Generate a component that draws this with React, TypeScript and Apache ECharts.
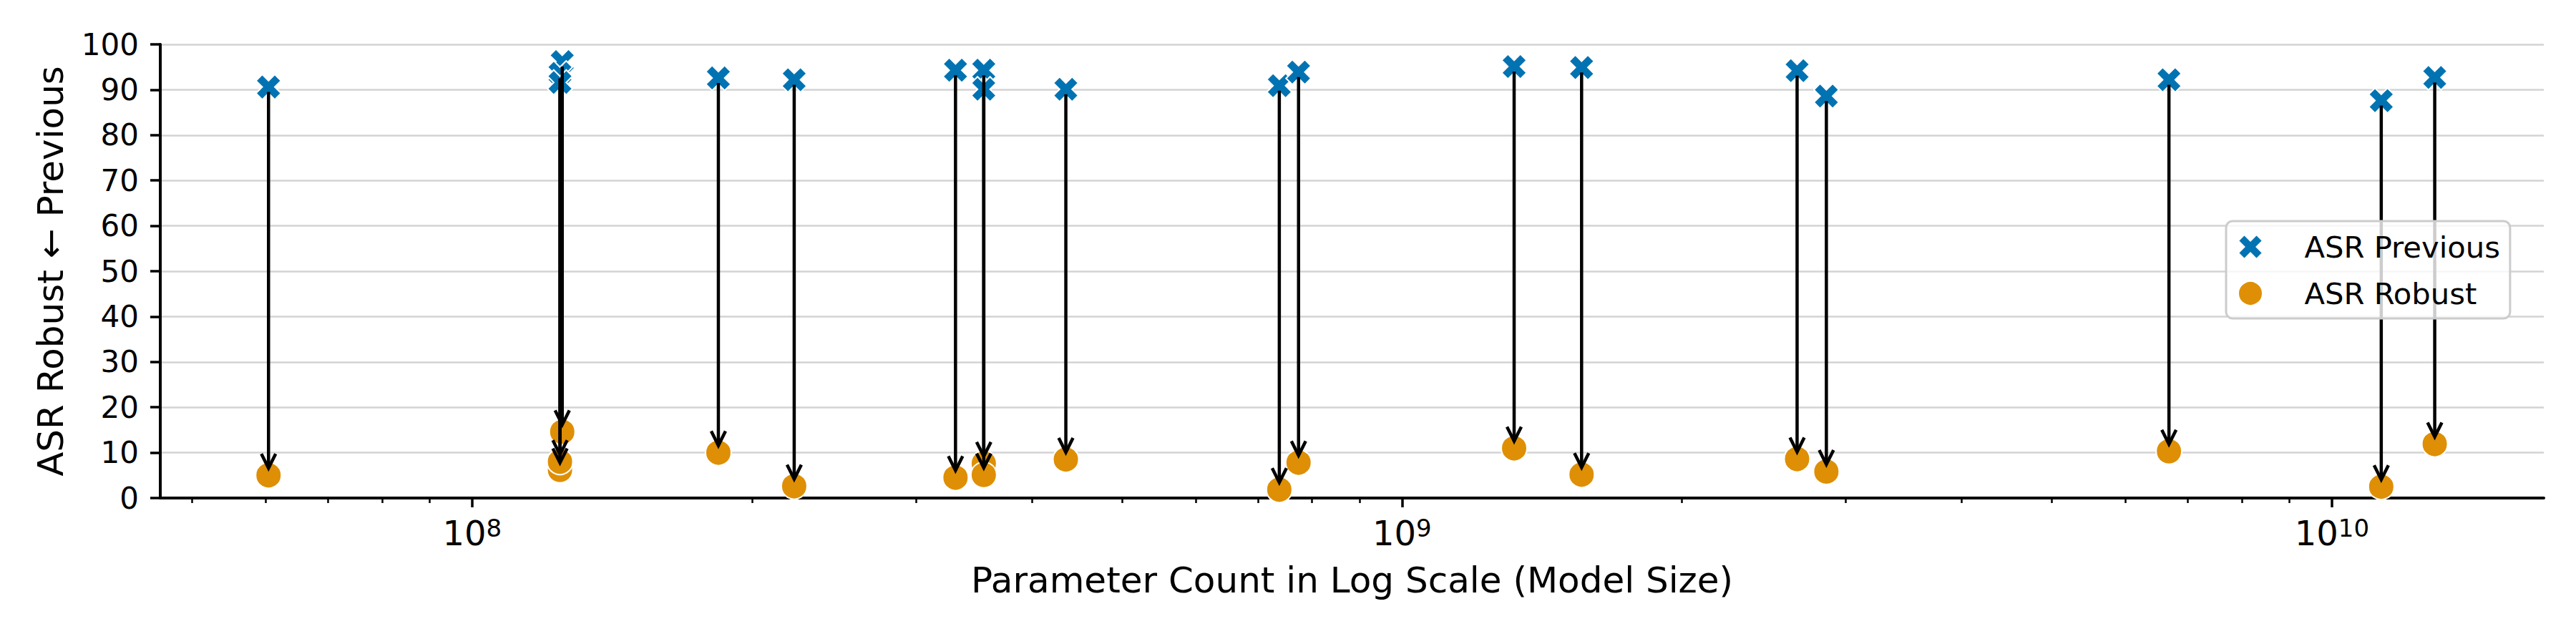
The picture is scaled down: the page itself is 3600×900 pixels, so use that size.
import React, { useEffect, useRef } from "react";
import * as echarts from "echarts";

// ---- data ----
const paramCounts = [
  6.04e7, 1.25e8, 1.243e8, 1.243e8, 1.84e8, 2.22e8, 3.31e8, 3.55e8, 3.55e8,
  4.35e8, 7.38e8, 7.74e8, 1.32e9, 1.56e9, 2.66e9, 2.86e9, 6.68e9, 1.13e10, 1.29e10,
];
const asrPrevious = [
  90.6, 96.2, 93.6, 91.6, 92.6, 92.2, 94.3, 94.3, 90.1,
  90.1, 90.9, 93.9, 95.1, 94.9, 94.2, 88.6, 92.2, 87.6, 92.7,
];
const asrRobust = [
  5.0, 14.6, 6.2, 8.0, 10.0, 2.6, 4.5, 7.6, 5.1,
  8.5, 1.85, 7.8, 10.95, 5.16, 8.6, 5.85, 10.3, 2.5, 11.9,
];
const majorTicks = [1e8, 1e9, 1e10];
const minorTicks = [
  5e7, 6e7, 7e7, 8e7, 9e7,
  2e8, 3e8, 4e8, 5e8, 6e8, 7e8, 8e8, 9e8,
  2e9, 3e9, 4e9, 5e9, 6e9, 7e9, 8e9, 9e9,
];
const X_MIN = 4.62e7;
const X_MAX = 1.69e10;
const seriesNames = ["ASR Previous", "ASR Robust"];

const FONT = "'DejaVu Sans', sans-serif";
const BLUE = "#0173b2";
const ORANGE = "#de8f05";
const X_PATH = "path://M6 0L4 2L2 0L0 2L2 4L0 6L2 8L4 6L6 8L8 6L6 4L8 2Z";

export default function App() {
  const ref = useRef<HTMLDivElement>(null);
  useEffect(() => {
    document.body.style.margin = "0";
    if (!ref.current) return;
    const chart = echarts.init(ref.current, undefined, { renderer: "svg" });

    const prevData = paramCounts.map((x, i) => [x, asrPrevious[i]]);
    const robData = paramCounts.map((x, i) => [x, asrRobust[i]]);
    const arrowData = paramCounts.map((x, i) => [x, asrPrevious[i], asrRobust[i]]);

    const option: any = {
      animation: false,
      textStyle: { fontFamily: FONT, color: "#000" },
      grid: { left: 224, right: 45, top: 62, bottom: 204 },
      legend: {
        data: seriesNames,
        orient: "vertical",
        left: 3111,
        top: 309,
        itemWidth: 83,
        itemHeight: 34,
        itemGap: 23,
        padding: [15, 14, 14, 16],
        selectedMode: false,
        backgroundColor: "rgba(255,255,255,0.8)",
        borderColor: "#cccccc",
        borderWidth: 3,
        borderRadius: 9,
        z: 10,
        textStyle: {
          fontFamily: FONT,
          fontSize: 41.7,
          color: "#000",
          lineHeight: 42,
          padding: [0, 0, 0, 29],
        },
      },
      xAxis: [
        {
          type: "log",
          logBase: 10,
          min: X_MIN,
          max: X_MAX,
          name: "Parameter Count in Log Scale (Model Size)",
          nameLocation: "middle",
          nameGap: 90,
          nameTextStyle: { fontSize: 50, color: "#000", fontFamily: FONT },
          axisLine: { show: true, onZero: false, lineStyle: { color: "#000", width: 4 } },
          axisTick: {
            show: true,
            customValues: majorTicks,
            length: 13,
            lineStyle: { color: "#000", width: 3.5 },
          },
          axisLabel: {
            show: true,
            customValues: majorTicks,
            margin: 25,
            color: "#000",
            formatter: (v: number) => `{b|10}{e|${Math.round(Math.log10(v))}}`,
            rich: {
              b: { fontSize: 48, lineHeight: 48, fontFamily: FONT, color: "#000" },
              e: { fontSize: 34, lineHeight: 24, verticalAlign: "top", fontFamily: FONT, color: "#000" },
            },
          },
          splitLine: { show: false },
          minorTick: { show: false },
          minorSplitLine: { show: false },
        },
        {
          type: "log",
          logBase: 10,
          min: X_MIN,
          max: X_MAX,
          position: "bottom",
          axisLine: { show: false, onZero: false },
          axisTick: {
            show: true,
            customValues: minorTicks,
            length: 7,
            lineStyle: { color: "#000", width: 2.5 },
          },
          axisLabel: { show: false },
          splitLine: { show: false },
        },
      ],
      yAxis: {
        type: "value",
        min: 0,
        max: 100,
        interval: 10,
        name: "ASR Robust \u2190 Previous",
        nameLocation: "middle",
        nameGap: 128,
        nameTextStyle: { fontSize: 50, color: "#000", fontFamily: FONT },
        axisLine: { show: true, onZero: false, lineStyle: { color: "#000", width: 4 } },
        axisTick: { show: true, length: 14, lineStyle: { color: "#000", width: 3.5 } },
        axisLabel: { fontSize: 42, margin: 30, color: "#000", fontFamily: FONT },
        splitLine: { show: true, lineStyle: { color: "#d3d3d3", width: 2.5 } },
      },
      series: [
        {
          name: seriesNames[0],
          type: "scatter",
          data: prevData,
          symbol: X_PATH,
          symbolSize: 35,
          itemStyle: { color: BLUE, borderColor: "#fff", borderWidth: 2, opacity: 1 },
          z: 2,
        },
        {
          name: seriesNames[1],
          type: "scatter",
          data: robData,
          symbol: "circle",
          symbolSize: 36,
          itemStyle: { color: ORANGE, borderColor: "#fff", borderWidth: 2, opacity: 1 },
          z: 2,
        },
        {
          name: "arrows",
          type: "custom",
          data: arrowData,
          encode: { x: 0, y: [1, 2] },
          clip: false,
          z: 3,
          silent: true,
          renderItem: (params: any, api: any) => {
            const x = api.value(0);
            const yp = api.value(1);
            const yr = api.value(2);
            const p0 = api.coord([x, yp]);
            const p1 = api.coord([x, yr]);
            const cx = p0[0];
            const y0 = p0[1] + 7;
            const y1 = p1[1] - 10;
            return {
              type: "group",
              children: [
                {
                  type: "line",
                  shape: { x1: cx, y1: y0, x2: cx, y2: y1 },
                  style: { stroke: "#000", lineWidth: 4.5 },
                },
                {
                  type: "polyline",
                  shape: { points: [[cx - 10, y1 - 20], [cx, y1], [cx + 10, y1 - 20]] },
                  style: { stroke: "#000", lineWidth: 4.5, fill: "none" },
                },
              ],
            };
          },
        },
      ],
    };
    chart.setOption(option);
    return () => chart.dispose();
  }, []);
  return <div ref={ref} style={{ width: 3600, height: 900, overflow: "hidden" }} />;
}
